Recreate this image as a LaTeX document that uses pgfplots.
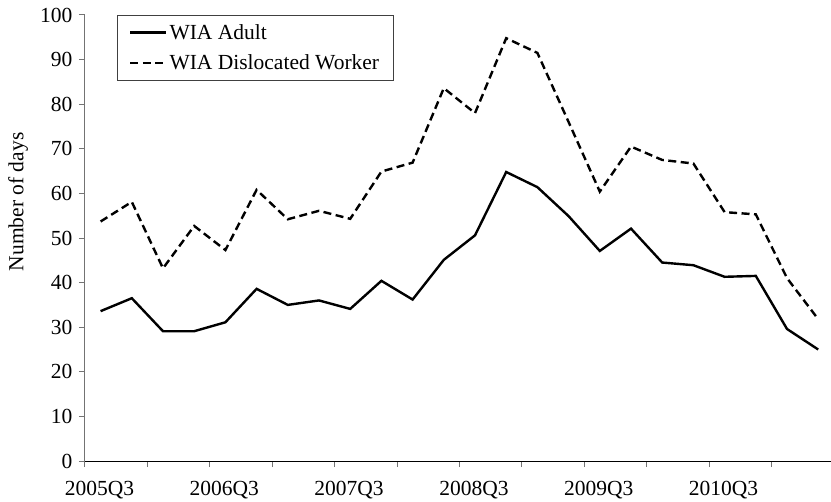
\documentclass[border=0pt]{standalone}
\usepackage{fontspec}
\setmainfont{Liberation Serif}
\usepackage{pgfplots}
\pgfplotsset{compat=1.18}
\begin{document}
\begin{tikzpicture}
\begin{axis}[
  name=ax, at={(0,0)},
  scale only axis, width=746pt, height=446pt,
  xmin=-0.5, xmax=23.41, ymin=0, ymax=100,
  axis x line*=bottom, axis y line*=left,
  x axis line style={black, line width=1pt},
  y axis line style={black!55, line width=1pt},
  tick style={black!55, line width=1pt},
  tick align=outside, major tick length=6pt,
  xtick={-0.5,1.5,...,21.5},
  xticklabels={2005Q3,,2006Q3,,2007Q3,,2008Q3,,2009Q3,,2010Q3,},
  x tick label style={xshift=14.5pt, yshift=-11pt},
  y tick label style={xshift=-3pt},
  ytick={0,10,...,100},
  /pgf/number format/assume math mode=true,
  ticklabel style={font=\fontsize{21.5}{24}\selectfont, text=black},
  ylabel={Number of days},
  ylabel style={at={(axis description cs:-0.0895,0.581)}, anchor=center, font=\fontsize{21.5}{24}\selectfont},
  legend style={at={(axis description cs:0.0425,1)}, anchor=north west,
    draw=black!75, line width=0.8pt, font=\fontsize{21.5}{24}\selectfont,
    inner xsep=12pt, inner ysep=7pt, row sep=10pt},
  legend cell align=left,
  legend image code/.code={\draw[#1] (0pt,0pt) -- (36pt,0pt);},
]
\addplot[black, line width=2.4pt] coordinates {
(0,33.6) (1,36.5) (2,29.1) (3,29.1) (4,31.1) (5,38.6) (6,35.0) (7,36.0)
(8,34.1) (9,40.4) (10,36.2) (11,45.1) (12,50.6) (13,64.8) (14,61.4) (15,54.9)
(16,47.1) (17,52.1) (18,44.5) (19,43.9) (20,41.3) (21,41.5) (22,29.6) (23,25.0)};
\addlegendentry{WIA Adult}
\addplot[black, line width=2.4pt, dash pattern=on 8pt off 4.5pt] coordinates {
(0,53.7) (1,58.1) (2,43.2) (3,52.7) (4,47.3) (5,60.8) (6,54.2) (7,56.1)
(8,54.3) (9,64.9) (10,66.9) (11,83.6) (12,78.0) (13,94.8) (14,91.5) (15,76.0)
(16,60.4) (17,70.5) (18,67.5) (19,66.7) (20,55.8) (21,55.3) (22,41.0) (23,31.8)};
\addlegendentry{WIA Dislocated Worker}
\end{axis}
\pgfresetboundingbox
\path[use as bounding box] ([xshift=-85pt,yshift=-40pt]ax.south west) rectangle ([yshift=15pt]ax.north east);
\end{tikzpicture}
\end{document}
